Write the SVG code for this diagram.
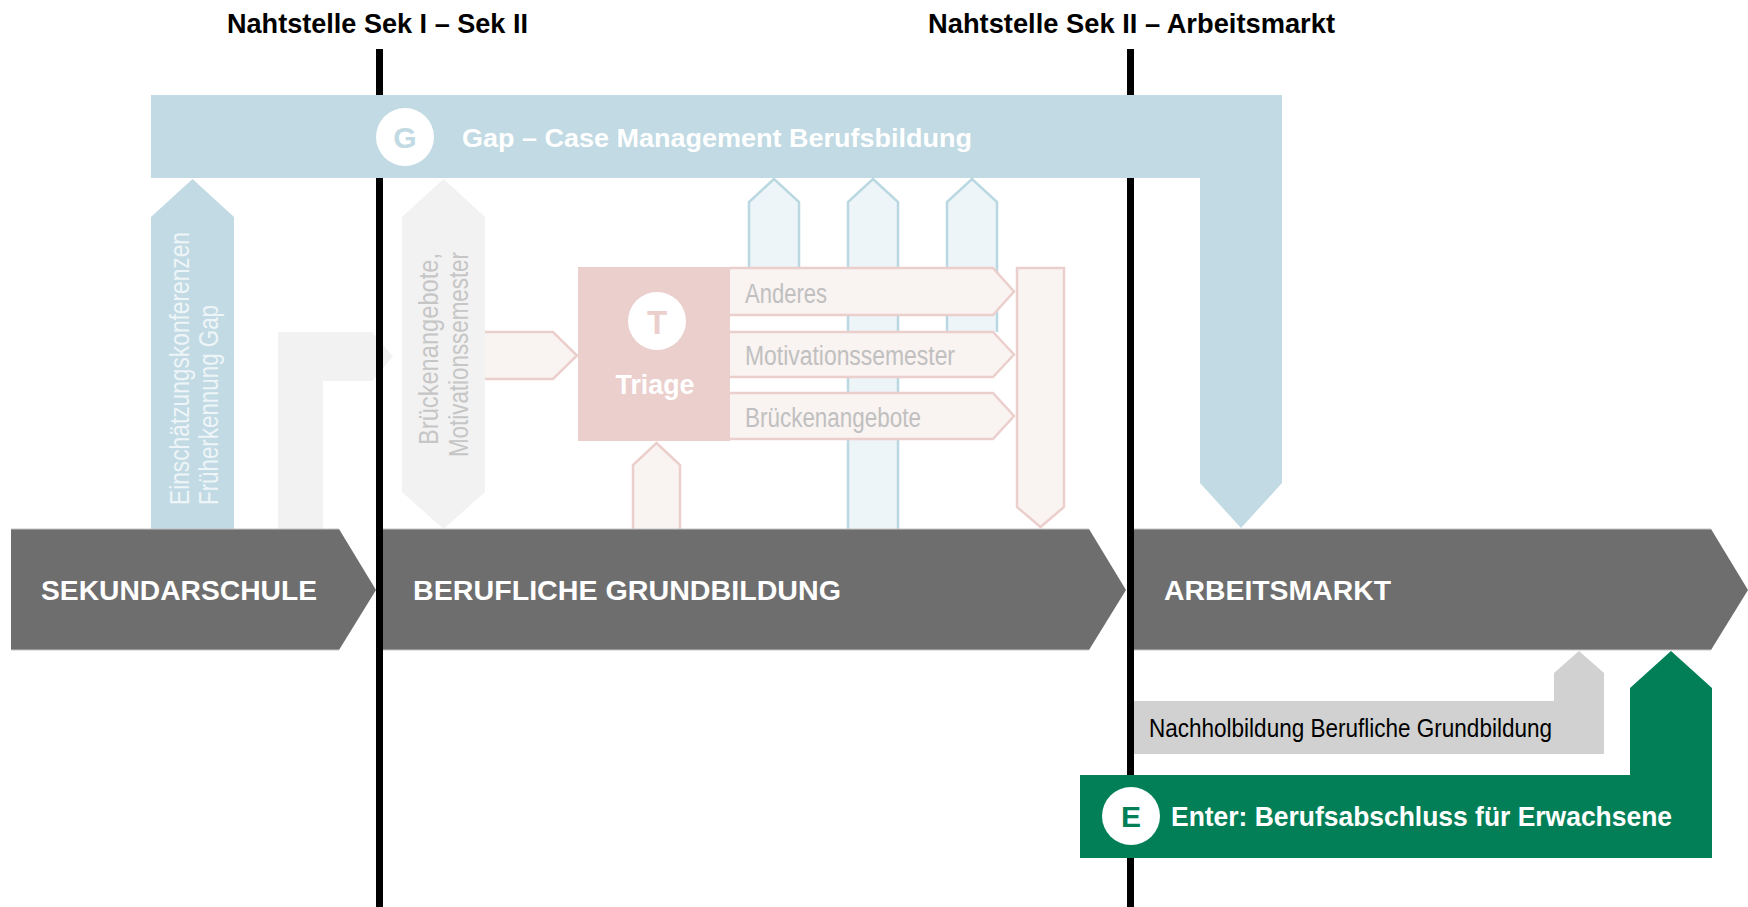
<svg xmlns="http://www.w3.org/2000/svg" width="1748" height="907" viewBox="0 0 1748 907">
<style>
text { font-family: "Liberation Sans", Arial, sans-serif; }
.title { font-size: 28px; font-weight: bold; fill: #000; }
.bar { fill: #6e6e6e; }
.baredge { fill: none; stroke: #c4c4c4; stroke-width: 1; }
.bartxt { font-size: 27px; font-weight: bold; fill: #fff; }
.blue { fill: #c1dae3; }
.lgray { fill: #f2f2f2; }
.pinkout { fill: #f9f3f1; stroke: #ebcfcc; stroke-width: 2.5; }
.blueout { fill: #eef5f8; stroke: #bad8e1; stroke-width: 2.5; }
.lbl { font-size: 27px; fill: #c0c0c0; }
.divider { stroke: #000; stroke-width: 7; }
</style>

<g id="brueckenpfeil-sek">
  <path class="lgray" d="M278,529 V332 H372 L393,356.5 L372,381 H323 V529 Z"/>
</g>

<g id="connectors">
  <line class="divider" x1="379.5" y1="49" x2="379.5" y2="907"/>
  <line class="divider" x1="1130.5" y1="49" x2="1130.5" y2="907"/>
</g>

<g id="titel-sek1-sek2">
  <text class="title" x="227" y="33" textLength="301" lengthAdjust="spacingAndGlyphs">Nahtstelle Sek I – Sek II</text>
</g>
<g id="titel-sek2-arbeitsmarkt">
  <text class="title" x="928" y="33" textLength="407" lengthAdjust="spacingAndGlyphs">Nahtstelle Sek II – Arbeitsmarkt</text>
</g>

<g id="gap-case-management">
  <path class="blue" d="M151,95 H1282 V483 L1241,528 L1200,483 V178 H151 Z"/>
  <circle cx="405" cy="137" r="29" fill="#fff"/>
  <text x="405" y="148" text-anchor="middle" font-size="30" font-weight="bold" fill="#c1dae3">G</text>
  <text x="462" y="147" font-size="26" font-weight="bold" fill="#fff" textLength="510" lengthAdjust="spacingAndGlyphs">Gap – Case Management Berufsbildung</text>
</g>

<g id="einschaetzung">
  <path class="blue" d="M151,529 V217 L192.5,179 L234,217 V529 Z"/>
  <text transform="translate(189,505) rotate(-90)" font-size="27" fill="#eef5f8" textLength="273" lengthAdjust="spacingAndGlyphs">Einschätzungskonferenzen</text>
  <text transform="translate(218,505) rotate(-90)" font-size="27" fill="#eef5f8" textLength="200" lengthAdjust="spacingAndGlyphs">Früherkennung Gap</text>
</g>

<g id="brueckenangebote-motivationssemester">
  <path class="lgray" d="M402,217 L443.5,179 L485,217 V492 L443.5,529 L402,492 Z"/>
  <text transform="translate(438,445) rotate(-90)" font-size="27" fill="#c6c6c6" textLength="192" lengthAdjust="spacingAndGlyphs">Brückenangebote,</text>
  <text transform="translate(468,457) rotate(-90)" font-size="27" fill="#c6c6c6" textLength="205" lengthAdjust="spacingAndGlyphs">Motivationssemester</text>
</g>

<g id="blau-pfeile">
  <path class="blueout" d="M749,268 V202 L774,179 L799,202 V268"/>
  <path class="blueout" d="M848,529 V202 L873,179 L898,202 V529"/>
  <path class="blueout" d="M947,332 V202 L972,179 L997,202 V332"/>
</g>

<g id="zufluss-triage">
  <path class="pinkout" d="M485,332 H553 L577,355.5 L553,379 H485"/>
  <path class="pinkout" d="M633,529 V465 L656.5,443 L680,465 V529"/>
</g>

<g id="triage">
  <rect x="578" y="267" width="152" height="174" fill="#eacfcd"/>
  <circle cx="657" cy="321" r="29" fill="#fff"/>
  <text x="657" y="334" text-anchor="middle" font-size="33" font-weight="bold" fill="#eacfcd">T</text>
  <text x="655" y="394" text-anchor="middle" font-size="27" font-weight="bold" fill="#fff" textLength="79" lengthAdjust="spacingAndGlyphs">Triage</text>
</g>

<g id="anderes">
  <path class="pinkout" d="M730,268 H993 L1014,291.5 L993,315 H730"/>
  <text class="lbl" x="745" y="303" textLength="82" lengthAdjust="spacingAndGlyphs">Anderes</text>
</g>
<g id="motivationssemester">
  <path class="pinkout" d="M730,332 H993 L1014,354.5 L993,377 H730"/>
  <text class="lbl" x="745" y="365" textLength="210" lengthAdjust="spacingAndGlyphs">Motivationssemester</text>
</g>
<g id="brueckenangebote">
  <path class="pinkout" d="M730,393 H993 L1014,416 L993,439 H730"/>
  <text class="lbl" x="745" y="427" textLength="176" lengthAdjust="spacingAndGlyphs">Brückenangebote</text>
</g>
<g id="rueckfluss">
  <path class="pinkout" d="M1017,268 H1064 V507 L1040.5,527 L1017,507 Z"/>
</g>

<g id="sekundarschule">
  <path class="bar" d="M11,529 H339 L376,590 L339,650 H11 Z"/>
  <path class="baredge" d="M11,529 H339 M11,650 H339"/>
  <text class="bartxt" x="41" y="600" textLength="276" lengthAdjust="spacingAndGlyphs">SEKUNDARSCHULE</text>
</g>
<g id="berufliche-grundbildung">
  <path class="bar" d="M383,529 H1089 L1126,590 L1089,650 H383 Z"/>
  <path class="baredge" d="M383,529 H1089 M383,650 H1089"/>
  <text class="bartxt" x="413" y="600" textLength="428" lengthAdjust="spacingAndGlyphs">BERUFLICHE GRUNDBILDUNG</text>
</g>
<g id="arbeitsmarkt">
  <path class="bar" d="M1134,529 H1711 L1748,590 L1711,650 H1134 Z"/>
  <path class="baredge" d="M1134,529 H1711 M1134,650 H1711"/>
  <text class="bartxt" x="1164" y="600" textLength="227" lengthAdjust="spacingAndGlyphs">ARBEITSMARKT</text>
</g>

<g id="nachholbildung">
  <path fill="#d0d1d0" d="M1134,701 H1554 V673 L1579,651 L1604,673 V754 H1134 Z"/>
  <text x="1149" y="737" font-size="25" fill="#000" textLength="403" lengthAdjust="spacingAndGlyphs">Nachholbildung Berufliche Grundbildung</text>
</g>

<g id="enter">
  <path fill="#037f57" d="M1080,775 H1630 V688 L1671,651 L1712,688 V858 H1080 Z"/>
  <circle cx="1131" cy="816" r="29" fill="#fff"/>
  <text x="1131" y="827" text-anchor="middle" font-size="30" font-weight="bold" fill="#037f57">E</text>
  <text x="1171" y="826" font-size="27" font-weight="bold" fill="#fff" textLength="501" lengthAdjust="spacingAndGlyphs">Enter: Berufsabschluss für Erwachsene</text>
</g>
</svg>
